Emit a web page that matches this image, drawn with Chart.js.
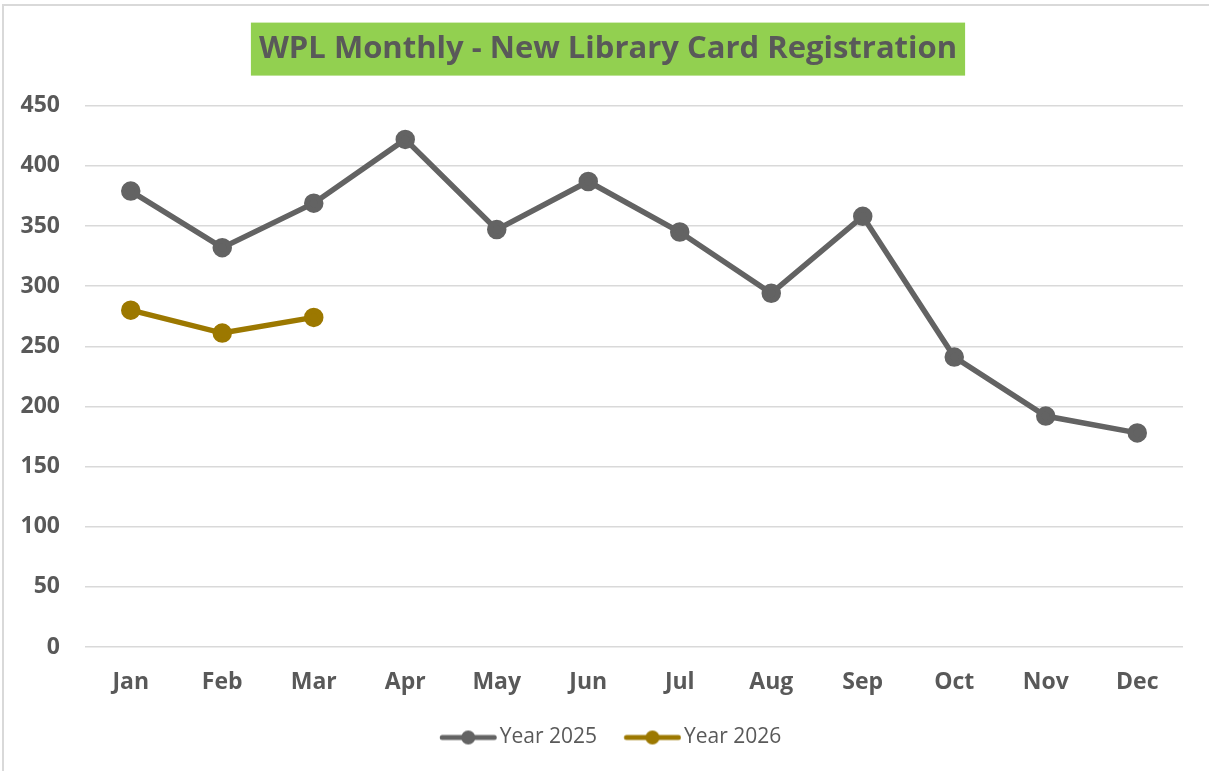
<!DOCTYPE html>
<html>
<head>
<meta charset="utf-8">
<script src="https://cdn.jsdelivr.net/npm/chart.js@4.4.1/dist/chart.umd.min.js"></script>
<style>
  body { margin: 0; background: #fff; overflow: hidden; }
  #frame { position: absolute; left: 2px; top: 4px; width: 1400px; height: 1000px; border: 2px solid #d9d9d9; }
  #box { position: absolute; left: 0; top: 0; width: 1209px; height: 771px; }
</style>
</head>
<body>
<div id="frame"></div>
<div id="box"><canvas id="chart"></canvas></div>
<script>
// data
const months = ['Jan','Feb','Mar','Apr','May','Jun','Jul','Aug','Sep','Oct','Nov','Dec'];
const year2025 = [379, 332, 369, 422, 347, 387, 345, 294, 358, 241, 192, 178];
const year2026 = [280, 261, 274];
const seriesNames = ['Year 2025', 'Year 2026'];
const yTicks = [0, 50, 100, 150, 200, 250, 300, 350, 400, 450];

const grey = '#636363';
const gold = '#9c7800';
const textCol = '#595959';

// line+dot legend marker; drawn right of the image centre so it sits close to the text
function legendMark(col){
    const c = document.createElement('canvas');
    c.width = 70; c.height = 18;
    const g = c.getContext('2d');
    const mid = 41.25;
    g.strokeStyle = col;
    g.lineWidth = 5;
    g.lineCap = 'round';
    g.beginPath(); g.moveTo(mid - 26, 9); g.lineTo(mid + 26, 9); g.stroke();
    g.fillStyle = col;
    g.beginPath(); g.arc(mid, 9, 7, 0, Math.PI*2); g.fill();
    return c;
}

// green box behind the title
const titleBox = {
    id: 'titleBox',
    beforeDraw(chart){
        const tb = chart.titleBlock;
        if(!tb) return;
        const ctx = chart.ctx;
        const font = Chart.helpers.toFont(tb.options.font);
        const pad = Chart.helpers.toPadding(tb.options.padding);
        ctx.save();
        ctx.font = font.string;
        const w = ctx.measureText(tb.options.text).width;
        const cx = (tb.left + tb.right) / 2;
        const cy = tb.top + pad.top + font.lineHeight / 2;
        ctx.fillStyle = '#92d050';
        ctx.fillRect(cx - w/2 - 8, cy - 27, w + 16, 53);
        ctx.restore();
    }
};

new Chart(document.getElementById('chart'), {
    type: 'line',
    data: {
        labels: months,
        datasets: [
            {
                label: seriesNames[0],
                data: year2025,
                borderColor: grey,
                backgroundColor: grey,
                borderWidth: 5.5,
                pointRadius: 7,
                pointHoverRadius: 7,
                tension: 0
            },
            {
                label: seriesNames[1],
                data: year2026,
                borderColor: gold,
                backgroundColor: gold,
                borderWidth: 5.5,
                pointRadius: 7,
                pointHoverRadius: 7,
                tension: 0
            }
        ]
    },
    options: {
        responsive: true,
        maintainAspectRatio: false,
        animation: false,
        layout: { padding: { left: 7, right: 0, top: 0, bottom: 13 } },
        plugins: {
            title: {
                display: true,
                text: 'WPL Monthly - New Library Card Registration',
                color: textCol,
                font: { family: 'Open Sans', size: 31, weight: 'bold', lineHeight: 1.2 },
                padding: { top: 31, bottom: 37.5 }
            },
            legend: {
                position: 'bottom',
                labels: {
                    color: textCol,
                    font: { family: 'Open Sans', size: 21 },
                    usePointStyle: true,
                    pointStyleWidth: 54.5,
                    padding: 22,
                    generateLabels(chart){
                        return chart.data.datasets.map((ds, i) => ({
                            text: ds.label,
                            pointStyle: legendMark(ds.borderColor),
                            fillStyle: ds.borderColor,
                            strokeStyle: ds.borderColor,
                            lineWidth: 0,
                            fontColor: textCol,
                            datasetIndex: i
                        }));
                    }
                }
            },
            tooltip: { enabled: false }
        },
        scales: {
            x: {
                offset: true,
                afterFit(s){ s.height = 58; },
                grid: { display: false, drawTicks: false },
                border: { display: false },
                ticks: {
                    color: textCol,
                    font: { family: 'Open Sans', size: 23, weight: 'bold' },
                    padding: 22,
                    maxRotation: 0
                }
            },
            y: {
                min: yTicks[0],
                max: yTicks[yTicks.length - 1],
                afterFit(s){ s.width = 78; },
                afterBuildTicks(s){ s.ticks = yTicks.map(v => ({ value: v })); },
                grid: { color: '#d9d9d9', lineWidth: 1.5, drawTicks: false },
                border: { display: false },
                ticks: {
                    color: textCol,
                    font: { family: 'Open Sans', size: 23, weight: 'bold' },
                    padding: 25
                }
            },
            // empty strip on the right, keeps the plot off the edge
            yRight: {
                position: 'right',
                afterFit(s){ s.width = 26; },
                grid: { display: false, drawTicks: false },
                border: { display: false },
                ticks: { display: false }
            }
        }
    },
    plugins: [titleBox]
});
</script>
</body>
</html>
